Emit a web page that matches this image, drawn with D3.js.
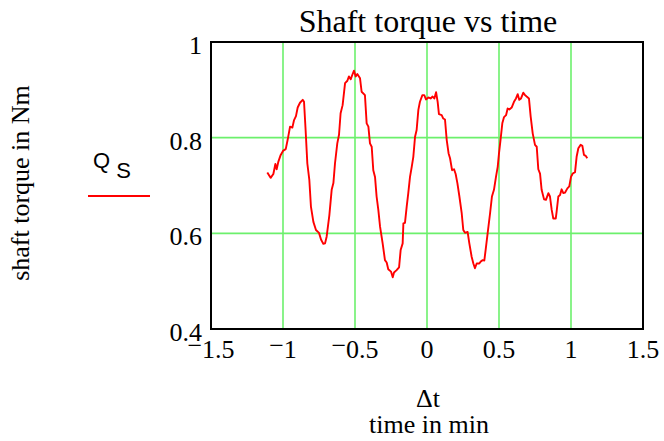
<!DOCTYPE html>
<meta charset="utf-8">
<style>
body { margin: 0; background: #fff; }
text { font-family: "Liberation Serif", "Times New Roman", serif; fill: #000; }
.grid line { stroke: #6cf06c; stroke-width: 1.6; }
</style>
<svg id="chart" width="664" height="441"></svg>
<script src="https://cdn.jsdelivr.net/npm/d3@7/dist/d3.min.js"></script>
<script>
// time in min
var time = [-1.109,-1.086,-1.067,-1.053,-1.044,-1.032,-1.016,-0.998,-0.981,-0.968,-0.951,-0.935,-0.924,-0.910,-0.898,-0.882,-0.863,-0.854,-0.843,-0.831,-0.817,-0.806,-0.789,-0.771,-0.750,-0.736,-0.720,-0.708,-0.697,-0.678,-0.662,-0.650,-0.639,-0.623,-0.611,-0.600,-0.586,-0.569,-0.553,-0.542,-0.530,-0.519,-0.507,-0.495,-0.484,-0.465,-0.454,-0.431,-0.419,-0.407,-0.396,-0.384,-0.373,-0.361,-0.350,-0.338,-0.326,-0.308,-0.292,-0.280,-0.269,-0.250,-0.238,-0.229,-0.211,-0.194,-0.183,-0.169,-0.164,-0.153,-0.141,-0.130,-0.118,-0.106,-0.095,-0.083,-0.072,-0.060,-0.049,-0.032,-0.019,-0.007,0.009,0.025,0.039,0.051,0.063,0.074,0.083,0.102,0.113,0.125,0.137,0.150,0.160,0.174,0.188,0.199,0.211,0.225,0.241,0.252,0.264,0.282,0.294,0.310,0.322,0.333,0.345,0.363,0.373,0.387,0.398,0.407,0.421,0.438,0.451,0.465,0.479,0.491,0.500,0.512,0.523,0.535,0.549,0.560,0.572,0.588,0.604,0.618,0.630,0.641,0.653,0.669,0.681,0.692,0.708,0.720,0.734,0.750,0.762,0.773,0.785,0.796,0.813,0.826,0.843,0.854,0.866,0.877,0.894,0.900,0.912,0.924,0.935,0.947,0.958,0.975,0.988,1.000,1.012,1.028,1.039,1.051,1.067,1.079,1.090,1.102,1.113];
// shaft torque in Nm
var torque = [0.727,0.716,0.724,0.745,0.734,0.750,0.764,0.773,0.776,0.795,0.823,0.821,0.836,0.845,0.863,0.873,0.879,0.875,0.816,0.746,0.711,0.656,0.624,0.607,0.601,0.587,0.578,0.579,0.593,0.638,0.691,0.705,0.746,0.788,0.806,0.851,0.868,0.914,0.919,0.928,0.922,0.931,0.940,0.928,0.933,0.924,0.896,0.889,0.830,0.823,0.788,0.781,0.732,0.718,0.677,0.649,0.614,0.579,0.544,0.539,0.525,0.520,0.508,0.518,0.523,0.529,0.565,0.579,0.621,0.622,0.656,0.684,0.718,0.739,0.760,0.802,0.816,0.858,0.875,0.889,0.889,0.880,0.884,0.882,0.886,0.882,0.895,0.875,0.849,0.847,0.840,0.838,0.795,0.767,0.757,0.732,0.734,0.724,0.705,0.677,0.642,0.607,0.601,0.603,0.579,0.551,0.537,0.527,0.537,0.537,0.541,0.544,0.543,0.565,0.600,0.642,0.677,0.691,0.718,0.739,0.767,0.799,0.830,0.843,0.847,0.861,0.859,0.863,0.875,0.882,0.891,0.879,0.882,0.894,0.889,0.886,0.882,0.844,0.809,0.785,0.781,0.734,0.725,0.691,0.671,0.670,0.684,0.677,0.649,0.631,0.631,0.645,0.677,0.680,0.692,0.684,0.685,0.694,0.698,0.718,0.725,0.728,0.760,0.778,0.785,0.783,0.764,0.762,0.757];
var xTicks = [-1.5, -1, -0.5, 0, 0.5, 1, 1.5];
var yTicks = [0.4, 0.6, 0.8, 1];

var plotL = 211, plotR = 643, plotT = 42, plotB = 329;
var svg = d3.select("#chart");

var x = d3.scaleLinear().domain([-1.5, 1.5]).range([plotL, plotR]);
var y = d3.scaleLinear().domain([0.4, 1]).range([plotB, plotT]);

// grid lines
var grid = svg.append("g").attr("class", "grid");
grid.selectAll(".gx").data(xTicks.slice(1, -1)).enter().append("line")
    .attr("x1", d => x(d)).attr("x2", d => x(d))
    .attr("y1", plotT).attr("y2", plotB);
grid.selectAll(".gy").data(yTicks.slice(1, -1)).enter().append("line")
    .attr("x1", plotL).attr("x2", plotR)
    .attr("y1", d => y(d)).attr("y2", d => y(d));

// the curve
var data = time.map((t, i) => [t, torque[i]]);
svg.append("path")
    .datum(data)
    .attr("fill", "none")
    .attr("stroke", "#ff0000")
    .attr("stroke-width", 1.9)
    .attr("stroke-linejoin", "round")
    .attr("d", d3.line().x(d => x(d[0])).y(d => y(d[1])));

// frame
svg.append("rect")
    .attr("x", plotL).attr("y", plotT)
    .attr("width", plotR - plotL).attr("height", plotB - plotT)
    .attr("fill", "none").attr("stroke", "#000").attr("stroke-width", 2);

// y tick labels
svg.selectAll(".ylab").data(yTicks).enter().append("text")
    .attr("x", 202).attr("y", d => y(d) + 12)
    .attr("text-anchor", "end")
    .style("font-size", "26px")
    .text(d => d === 1 ? "1" : d3.format(".1f")(d));

// x tick labels, raised minus like the original
var xl = svg.selectAll(".xlab").data(xTicks).enter().append("text")
    .attr("x", d => x(d)).attr("y", 358)
    .attr("text-anchor", "middle")
    .style("font-size", "26px");
xl.each(function(d) {
  var t = d3.select(this);
  if (d < 0) {
    t.append("tspan").attr("dy", -4).text("\u2212");
    t.append("tspan").attr("dy", 4).text(String(Math.abs(d)));
  } else {
    t.text(String(d));
  }
});

// title
svg.append("text")
    .attr("x", 428).attr("y", 32)
    .attr("text-anchor", "middle")
    .style("font-size", "32px")
    .text("Shaft torque vs time");

// x axis labels
svg.append("text")
    .attr("x", 428).attr("y", 407)
    .attr("text-anchor", "middle")
    .style("font-size", "26px")
    .text("\u0394t");
svg.append("text")
    .attr("x", 429).attr("y", 433)
    .attr("text-anchor", "middle")
    .style("font-size", "26px")
    .text("time in min");

// y axis label
svg.append("text")
    .attr("transform", "translate(29,183) rotate(-90)")
    .attr("text-anchor", "middle")
    .style("font-size", "26px")
    .text("shaft torque in Nm");

// legend
var lg = svg.append("text")
    .attr("x", 93).attr("y", 168)
    .style("font-family", "'Liberation Sans', Arial, sans-serif")
    .style("font-size", "22px");
lg.append("tspan").text("Q");
lg.append("tspan").attr("dx", 6).attr("dy", 10).text("S");
svg.append("line")
    .attr("x1", 88).attr("x2", 150)
    .attr("y1", 196).attr("y2", 196)
    .attr("stroke", "#ff0000").attr("stroke-width", 1.8);
</script>
